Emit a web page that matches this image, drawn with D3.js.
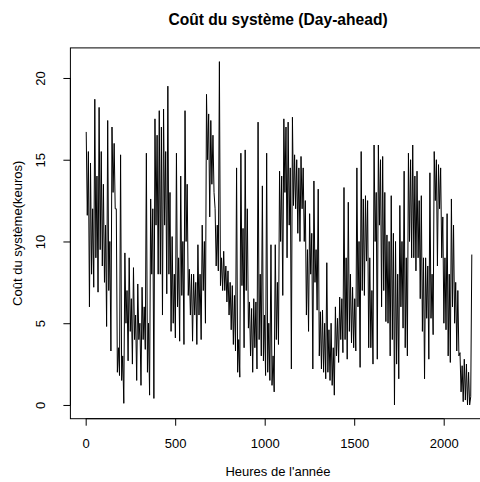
<!DOCTYPE html>
<html>
<head>
<meta charset="utf-8">
<script src="https://cdn.jsdelivr.net/npm/d3@7"></script>
<style>
  html, body { margin: 0; padding: 0; background: #fff; }
  svg { display: block; }
  text { font-family: "Liberation Sans", Arial, sans-serif; fill: #000; }
</style>
</head>
<body>
<svg id="chart" width="480" height="482"></svg>
<script>
// ---- data: system cost (keuros), read every 6 h from the picture ----
const title = "Coût du système (Day-ahead)";
const xTitle = "Heures de l'année";
const yTitle = "Coût du système(keuros)";
const xTicks = [0, 500, 1000, 1500, 2000];
const yTicks = [0, 5, 10, 15, 20];
const totalHours = 2160;
const sampleStepHours = 6;
const cost = [
  16.7, 11.6, 15.5, 6.0,   14.8, 8.0, 12.0, 7.2,    18.7, 9.0, 14.0, 6.9,    18.2, 9.5, 15.5, 8.5,
  13.5, 7.5, 11.0, 4.8,    17.4, 7.0, 10.0, 3.3,    17.0, 13.0, 16.0, 12.0,  12.0, 2.0, 3.5, 1.8,
  15.3, 1.5, 3.0, 0.1,     9.3, 5.0, 7.0, 2.7,      9.0, 4.5, 6.5, 2.5,      8.4, 4.0, 5.5, 1.5,
  7.4, 4.0, 5.0, 1.2,      7.2, 4.0, 6.0, 3.4,      15.4, 2.0, 5.0, 0.6,     12.6, 8.0, 12.0, 0.4,
  17.5, 11.0, 16.5, 8.0,   18.0, 8.0, 17.0, 5.5,    18.1, 11.0, 15.5, 6.8,   19.5, 8.0, 13.0, 4.5,
  10.3, 5.0, 8.0, 4.1,     15.4, 6.0, 9.0, 3.9,     14.0, 6.7, 10.0, 3.7,    18.0, 10.0, 13.5, 6.7,
  8.3, 5.5, 8.0, 3.9,      8.0, 5.5, 7.5, 3.7,      9.8, 5.5, 8.0, 4.0,      11.0, 7.0, 10.0, 5.0,
  19.0, 15.0, 17.8, 11.5,  17.4, 13.5, 16.5, 13.0,  12.0, 8.5, 11.0, 8.2,    21.0, 7.3, 9.0, 7.0,
  9.4, 7.0, 8.5, 6.3,      8.2, 5.5, 7.5, 4.6,      7.3, 3.7, 6.7, 3.3,      14.5, 2.0, 4.0, 1.7,
  15.4, 7.3, 10.8, 3.5,    15.6, 7.0, 12.0, 4.7,    6.3, 3.0, 5.9, 2.0,      6.5, 3.5, 6.3, 2.2,
  17.3, 4.0, 8.0, 3.0,     13.4, 2.7, 5.5, 1.8,     15.4, 2.0, 5.0, 1.5,     9.8, 1.2, 3.0, 0.8,
  9.8, 4.0, 7.5, 3.7,      14.3, 10.0, 14.0, 6.7,   17.5, 13.0, 17.0, 9.0,   17.3, 11.0, 14.5, 2.2,
  17.6, 12.2, 15.3, 12.0,  15.0, 10.5, 14.5, 10.0,  15.2, 12.0, 14.5, 10.0,  12.5, 5.5, 9.5, 4.5,
  11.7, 8.0, 10.5, 2.2,    13.7, 7.5, 9.5, 5.8,     13.2, 3.0, 5.7, 2.2,     5.8, 2.0, 5.0, 1.6,
  8.7, 2.0, 4.6, 1.5,      5.0, 1.2, 3.5, 0.6,      6.0, 3.0, 5.3, 2.6,      6.6, 4.0, 6.5, 3.2,
  13.3, 4.0, 9.0, 2.8,     12.4, 4.5, 8.0, 3.8,     7.2, 3.5, 6.5, 3.3,      14.5, 6.0, 10.0, 2.3,
  15.5, 7.0, 12.6, 6.7,    12.8, 8.8, 12.5, 3.5,    9.0, 3.5, 7.0, 2.5,      15.9, 10.0, 13.0, 2.8,
  15.9, 11.0, 15.0, 6.0,   15.2, 7.0, 13.0, 5.1,    10.4, 5.0, 10.0, 3.0,    12.8, 4.0, 10.5, 0.0,
  10.0, 2.5, 8.0, 1.6,     12.2, 6.0, 10.0, 4.7,    14.3, 3.5, 9.0, 3.0,     15.4, 10.0, 15.0, 9.0,
  15.9, 9.0, 14.0, 8.2,    14.3, 9.0, 12.5, 6.5,    12.8, 4.5, 9.0, 1.6,     9.0, 5.3, 8.5, 2.8,
  14.2, 5.3, 8.0, 4.3,     15.5, 12.5, 15.0, 8.5,   14.7, 12.0, 14.5, 9.0,   11.5, 5.0, 9.0, 4.6,
  11.7, 3.0, 8.0, 2.6,     12.6, 6.0, 11.0, 5.0,    7.5, 3.3, 7.0, 3.0,      3.2, 0.8, 2.4, 0.2,
  2.8, 0.3, 2.5, 0.0,      2.0, 0.0, 0.5, 9.2
];

// ---- layout ----
const svg = d3.select("#chart");
svg.append("rect").attr("width", 480).attr("height", 482).attr("fill", "#fff");

const xMin = 1, xMax = totalHours;
const xPad = 0.04 * (xMax - xMin);
const yMin = 0, yMax = d3.max(cost);
const yPad = 0.04 * (yMax - yMin);

const plot = { left: 70.4, right: 487.8, top: 47.9, bottom: 418.7 };

const x = d3.scaleLinear().domain([xMin - xPad, xMax + xPad]).range([plot.left, plot.right]);
const y = d3.scaleLinear().domain([yMin - yPad, yMax + yPad]).range([plot.bottom, plot.top]);

const hourOf = i => xMin + 2 + i * sampleStepHours;

// line
const line = d3.line().x((d, i) => x(hourOf(i))).y(d => y(d));
svg.append("path")
  .datum(cost)
  .attr("d", line)
  .attr("fill", "none")
  .attr("stroke", "#000")
  .attr("stroke-width", 1)
  .attr("stroke-linejoin", "bevel");

// box
svg.append("rect")
  .attr("x", plot.left).attr("y", plot.top)
  .attr("width", plot.right - plot.left).attr("height", plot.bottom - plot.top)
  .attr("fill", "none").attr("stroke", "#000").attr("stroke-width", 1);

// x axis
const xAxis = d3.axisBottom(x).tickValues(xTicks).tickFormat(d3.format("d")).tickSize(7);
const gx = svg.append("g").attr("transform", `translate(0,${plot.bottom})`).call(xAxis);
gx.select(".domain").attr("d", `M${x(xTicks[0])},0H${x(xTicks[xTicks.length - 1])}`);
gx.selectAll("text").attr("font-size", 13).attr("font-family", "Liberation Sans, Arial, sans-serif")
  .attr("fill", "#000").attr("dy", null).attr("y", 29.5);

// y axis
const yAxis = d3.axisLeft(y).tickValues(yTicks).tickFormat(d3.format("d")).tickSize(7);
const gy = svg.append("g").attr("transform", `translate(${plot.left},0)`).call(yAxis);
gy.select(".domain").attr("d", `M0,${y(yTicks[0])}V${y(yTicks[yTicks.length - 1])}`);
gy.selectAll(".tick text")
  .attr("font-size", 13).attr("font-family", "Liberation Sans, Arial, sans-serif").attr("fill", "#000")
  .attr("x", null).attr("dy", null)
  .attr("transform", "translate(-25.5,0) rotate(-90)")
  .attr("text-anchor", "middle");

// titles
svg.append("text").attr("x", 278).attr("y", 25)
  .attr("text-anchor", "middle").attr("font-size", 15.6).attr("font-weight", "bold").text(title);
svg.append("text").attr("x", 278).attr("y", 476)
  .attr("text-anchor", "middle").attr("font-size", 13).text(xTitle);
svg.append("text")
  .attr("transform", `translate(21.5,${(plot.top + plot.bottom) / 2}) rotate(-90)`)
  .attr("text-anchor", "middle").attr("font-size", 13).text(yTitle);
</script>
</body>
</html>
